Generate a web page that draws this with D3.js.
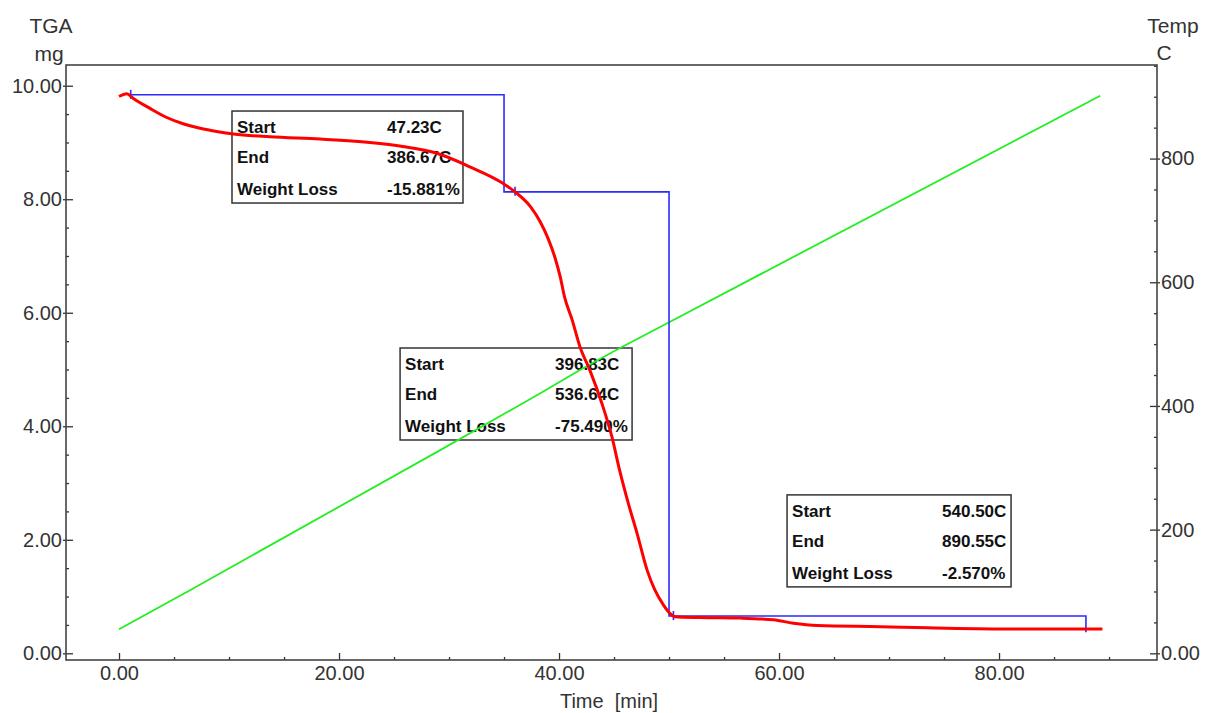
<!DOCTYPE html>
<html>
<head>
<meta charset="utf-8">
<script src="https://cdn.jsdelivr.net/npm/d3@7/dist/d3.min.js"></script>
<style>
body { margin: 0; background: #fff; }
svg { display: block; font-family: "Liberation Sans", Arial, sans-serif; }
</style>
</head>
<body>
<script>
// TGA mass curve: time [min] / mass [mg]
var tgaTime = [0, 0.7, 1.27, 2.82, 4.34, 5.82, 7.36, 9.0, 10.4, 13.7, 18.3, 22.8, 25.8, 28.9, 31.9, 34.9,
    36.0, 37.4, 38.3, 39.0, 39.6, 40.1, 40.5, 41.2, 41.9, 42.8, 43.9, 44.8, 45.5, 46.3, 47.1, 48.0,
    48.7, 49.5, 50.1, 50.5, 52.8, 56.5, 59.5, 61.3, 63.5, 69.2, 73.5, 80.7, 89.4];
var tgaMass = [9.81, 9.86, 9.78, 9.60, 9.44, 9.33, 9.25, 9.19, 9.15, 9.10, 9.06, 9.00, 8.93, 8.81, 8.57, 8.28,
    8.13, 7.87, 7.60, 7.31, 6.99, 6.64, 6.28, 5.87, 5.40, 4.99, 4.40, 3.82, 3.23, 2.64, 2.11, 1.47,
    1.12, 0.85, 0.70, 0.645, 0.63, 0.62, 0.59, 0.53, 0.49, 0.47, 0.45, 0.43, 0.43];

// furnace temperature: time [min] / temp [C]
var tempTime = [0, 6.45, 29.2, 38.3, 41.9, 45.2, 50.1, 89.2];
var tempValue = [38.8, 102, 328.6, 420.4, 458, 490.5, 536.2, 901.7];

// step evaluation line (blue)
var stepTime = [1.06, 35.0, 35.0, 50.0, 50.0, 87.9, 87.9];
var stepMass = [9.84, 9.84, 8.13, 8.13, 0.657, 0.657, 0.37];
var markTime = [1.06, 36.0, 50.4];
var markMass = [9.84, 8.13, 0.657];

// axes
var timeTicks = [0, 20, 40, 60, 80];
var timeTickLabels = ["0.00", "20.00", "40.00", "60.00", "80.00"];
var massTicks = [0, 2, 4, 6, 8, 10];
var massTickLabels = ["0.00", "2.00", "4.00", "6.00", "8.00", "10.00"];
var tempTicks = [0, 200, 400, 600, 800];
var tempTickLabels = ["0.00", "200", "400", "600", "800"];

// step results
var rowLabels = ["Start", "End", "Weight Loss"];
var stepStart = ["47.23C", "396.83C", "540.50C"];
var stepEnd = ["386.67C", "536.64C", "890.55C"];
var stepLoss = ["-15.881%", "-75.490%", "-2.570%"];

// where the result boxes sit (time, mass of top-left corner) and their width
var boxPlace = [
    {t: 10.27, m: 9.554, w: 231},
    {t: 25.55, m: 5.379, w: 232},
    {t: 60.73, m: 2.791, w: 224}
];

var width = 1210,
    height = 713,
    margin = {top: 65, right: 53, bottom: 53, left: 66};
var w = width - margin.left - margin.right,
    h = height - margin.top - margin.bottom;

var svg = d3.select("body").append("svg")
    .attr("width", width)
    .attr("height", height);

var g = svg.append("g")
    .attr("transform", "translate(" + margin.left + "," + margin.top + ")");

var x = d3.scaleLinear().domain([-4.82, 94.36]).range([0, w]);
var yMass = d3.scaleLinear().domain([-0.118, 10.365]).range([h, 0]);
var yTemp = d3.scaleLinear().domain([-10.8, 951.3]).range([h, 0]);

var axisColor = "#333";

function styleAxis (sel)
{
    sel.select(".domain").remove();
    sel.selectAll(".tick line").attr("stroke", axisColor).attr("stroke-width", 1.3);
    sel.selectAll(".tick text")
        .attr("fill", axisColor)
        .style("font-size", "20px")
        .style("font-family", "'Liberation Sans', Arial, sans-serif");
}

// minor ticks
var minorTime = d3.range(-0, 95, 5).filter(function (d) { return d % 20 !== 0; });
var minorMass = d3.range(0.5, 10.4, 0.5).filter(function (d) { return d % 2 !== 0; });
var minorTemp = d3.range(50, 951, 50).filter(function (d) { return d % 200 !== 0; });

g.append("g").attr("transform", "translate(0," + h + ")")
    .call(d3.axisBottom(x).tickValues(minorTime).tickSize(-3).tickFormat(""))
    .call(styleAxis);
g.append("g")
    .call(d3.axisLeft(yMass).tickValues(minorMass).tickSize(-3).tickFormat(""))
    .call(styleAxis);
g.append("g").attr("transform", "translate(" + w + ",0)")
    .call(d3.axisRight(yTemp).tickValues(minorTemp).tickSize(-3).tickFormat(""))
    .call(styleAxis);

// major ticks
g.append("g").attr("transform", "translate(0," + h + ")")
    .call(d3.axisBottom(x).tickValues(timeTicks).tickSize(-7).tickPadding(6)
        .tickFormat(function (d, i) { return timeTickLabels[i]; }))
    .call(styleAxis);

var left = g.append("g")
    .call(d3.axisLeft(yMass).tickValues(massTicks).tickSize(-7).tickPadding(4)
        .tickFormat(function (d, i) { return massTickLabels[i]; }))
    .call(styleAxis);
left.selectAll(".tick line").attr("x1", -3);

var right = g.append("g").attr("transform", "translate(" + w + ",0)")
    .call(d3.axisRight(yTemp).tickValues(tempTicks).tickSize(-7).tickPadding(4)
        .tickFormat(function (d, i) { return tempTickLabels[i]; }))
    .call(styleAxis);
right.selectAll(".tick line").attr("x1", 3);

// frame
g.append("rect")
    .attr("width", w)
    .attr("height", h)
    .attr("fill", "none")
    .attr("stroke", "#444")
    .attr("stroke-width", 1.6);

// axis titles
var titles = [
    {text: "TGA", x: 51, y: 33, size: 21},
    {text: "mg", x: 49, y: 61, size: 21},
    {text: "Temp", x: 1173, y: 33, size: 21},
    {text: "C", x: 1164, y: 60, size: 21},
    {text: "Time  [min]", x: 609, y: 708, size: 20}
];
svg.selectAll(".title")
    .data(titles)
    .enter()
    .append("text")
    .attr("class", "title")
    .attr("x", function (d) { return d.x; })
    .attr("y", function (d) { return d.y; })
    .attr("text-anchor", "middle")
    .attr("fill", axisColor)
    .style("font-size", function (d) { return d.size + "px"; })
    .style("white-space", "pre")
    .text(function (d) { return d.text; });

// result boxes
var boxes = g.selectAll(".box")
    .data(boxPlace)
    .enter()
    .append("g")
    .attr("class", "box")
    .attr("transform", function (d) { return "translate(" + x(d.t) + "," + yMass(d.m) + ")"; });

boxes.append("rect")
    .attr("width", function (d) { return d.w; })
    .attr("height", 92)
    .attr("fill", "#fff")
    .attr("stroke", "#333")
    .attr("stroke-width", 1.5);

var rowY = [22, 52, 84];
boxes.each(function (d, bi)
{
    var vals = [stepStart[bi], stepEnd[bi], stepLoss[bi]];
    var b = d3.select(this);
    rowLabels.forEach(function (lab, r)
    {
        b.append("text").attr("x", 5).attr("y", rowY[r])
            .style("font-size", "17px").style("font-weight", "bold")
            .attr("fill", "#111").text(lab);
        b.append("text").attr("x", 155).attr("y", rowY[r])
            .style("font-size", "17px").style("font-weight", "bold")
            .attr("fill", "#111").text(vals[r]);
    });
});

// temperature (green)
var tempLine = d3.line()
    .x(function (d) { return x(d[0]); })
    .y(function (d) { return yTemp(d[1]); });
g.append("path")
    .attr("d", tempLine(d3.zip(tempTime, tempValue)))
    .attr("fill", "none")
    .attr("stroke", "#22ee22")
    .attr("stroke-width", 1.8);

// step line (blue)
var stepLine = d3.line()
    .x(function (d) { return x(d[0]); })
    .y(function (d) { return yMass(d[1]); });
g.append("path")
    .attr("d", stepLine(d3.zip(stepTime, stepMass)))
    .attr("fill", "none")
    .attr("stroke", "#2b2bff")
    .attr("stroke-width", 1.6);

g.selectAll(".mark")
    .data(d3.zip(markTime, markMass))
    .enter()
    .append("line")
    .attr("class", "mark")
    .attr("x1", function (d) { return x(d[0]); })
    .attr("x2", function (d) { return x(d[0]); })
    .attr("y1", function (d) { return yMass(d[1]) - 5; })
    .attr("y2", function (d) { return yMass(d[1]) + 4; })
    .attr("stroke", "#2b2bff")
    .attr("stroke-width", 1.6);

// mass (red)
var massLine = d3.line()
    .x(function (d) { return x(d[0]); })
    .y(function (d) { return yMass(d[1]); })
    .curve(d3.curveMonotoneX);
g.append("path")
    .attr("d", massLine(d3.zip(tgaTime, tgaMass)))
    .attr("fill", "none")
    .attr("stroke", "#ff0000")
    .attr("stroke-width", 3);
</script>
</body>
</html>
